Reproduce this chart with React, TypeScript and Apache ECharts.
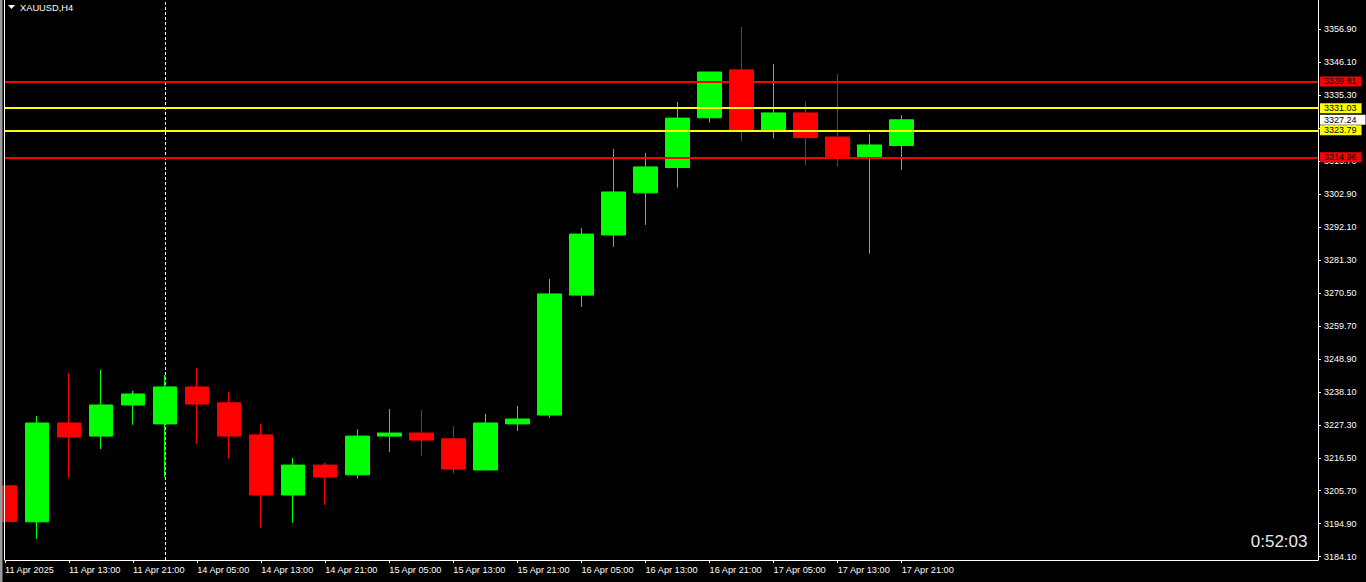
import React, { useEffect, useRef } from "react";
import * as echarts from "echarts";

// ---- data ----
const categories = [
  "11 Apr 2025", "11 Apr 09:00", "11 Apr 13:00", "11 Apr 17:00", "11 Apr 21:00",
  "14 Apr 01:00", "14 Apr 05:00", "14 Apr 09:00", "14 Apr 13:00", "14 Apr 17:00", "14 Apr 21:00",
  "15 Apr 01:00", "15 Apr 05:00", "15 Apr 09:00", "15 Apr 13:00", "15 Apr 17:00", "15 Apr 21:00",
  "16 Apr 01:00", "16 Apr 05:00", "16 Apr 09:00", "16 Apr 13:00", "16 Apr 17:00", "16 Apr 21:00",
  "17 Apr 01:00", "17 Apr 05:00", "17 Apr 09:00", "17 Apr 13:00", "17 Apr 17:00", "17 Apr 21:00",
];
const emptySlotCount = 13; // chart shift area to the right of the last bar

const openPrices = [
  3207.3, 3195.5, 3227.9, 3223.6, 3233.8, 3227.6, 3239.7, 3234.5, 3224.0, 3204.3,
  3214.1, 3210.9, 3223.6, 3224.6, 3222.7, 3212.5, 3227.6, 3230.5, 3269.8, 3289.5,
  3303.3, 3311.6, 3327.9, 3343.6, 3323.7, 3329.5, 3321.6, 3315.2, 3318.8,
];
const closePrices = [
  3195.6, 3227.9, 3223.3, 3233.8, 3237.4, 3239.7, 3234.1, 3223.6, 3204.3, 3214.1,
  3210.2, 3223.6, 3224.6, 3222.3, 3212.8, 3227.9, 3229.2, 3270.2, 3289.8, 3303.6,
  3311.8, 3327.8, 3342.9, 3323.7, 3329.5, 3321.4, 3315.2, 3319.0, 3327.24,
];
const lowPrices = [
  3187.4, 3189.9, 3210.0, 3219.4, 3227.3, 3210.0, 3221.1, 3216.2, 3193.6, 3195.2,
  3201.1, 3209.7, 3218.4, 3217.1, 3211.3, 3212.4, 3225.3, 3229.6, 3265.9, 3285.6,
  3292.8, 3305.0, 3326.3, 3320.4, 3321.1, 3312.5, 3311.9, 3283.4, 3310.9,
];
const highPrices = [
  3219.9, 3230.2, 3244.3, 3245.3, 3238.4, 3243.6, 3245.9, 3238.1, 3227.6, 3216.4,
  3214.8, 3225.9, 3232.5, 3232.2, 3226.9, 3230.9, 3233.5, 3275.1, 3291.8, 3317.7,
  3316.4, 3333.1, 3343.0, 3357.7, 3345.5, 3333.1, 3342.3, 3322.6, 3328.8,
];

const yTickValues = [
  3184.1, 3194.9, 3205.7, 3216.5, 3227.3, 3238.1, 3248.9, 3259.7, 3270.5,
  3281.3, 3292.1, 3302.9, 3313.7, 3324.5, 3335.3, 3346.1, 3356.9,
];
const redLevels = [3339.81, 3314.96];
const yellowLevels = [3331.03, 3323.79];
const bidPrice = 3327.24;
const separatorCategory = "14 Apr 01:00";
const yMin = 3183.0;
const yMax = 3366.5;
const lastLabelIndex = 28;

const symbolTitle = "XAUUSD,H4";
const timerText = "0:52:03";

const FONT = "'Liberation Sans', Arial, sans-serif";

export default function App() {
  const ref = useRef<HTMLDivElement>(null);

  useEffect(() => {
    document.body.style.margin = "0";
    document.body.style.background = "#000";
    if (!ref.current) return;
    const chart = echarts.init(ref.current, undefined, { renderer: "svg" });

    const allCats = categories.concat(new Array(emptySlotCount).fill(""));
    const candleData = openPrices.map((o, i) => [o, closePrices[i], lowPrices[i], highPrices[i]]);

    const levelLabel = (bg: string, padRight = 5) => ({
      show: true,
      position: "end",
      distance: 2,
      color: "#000",
      fontSize: 9,
      fontFamily: FONT,
      lineHeight: 9,
      backgroundColor: bg,
      padding: [1, padRight, 0, 4],
      formatter: (p: any) => Number(p.value).toFixed(2),
    });

    const levelData: any[] = [
      ...redLevels.map((v) => ({
        yAxis: v,
        lineStyle: { color: "#ff0000", width: 2, type: "solid" },
        label: levelLabel("#ff0000"),
      })),
      {
        yAxis: bidPrice,
        lineStyle: { color: "rgba(0,0,0,0)", width: 1, type: "solid" },
        label: levelLabel("#ffffff", 9),
      },
      ...yellowLevels.map((v) => ({
        yAxis: v,
        lineStyle: { color: "#ffff00", width: 2, type: "solid" },
        label: levelLabel("#ffff00"),
      })),
    ];

    const showIdx = (i: number) => i <= lastLabelIndex && i % 2 === 0;

    chart.setOption({
      animation: false,
      backgroundColor: "#000",
      grid: { left: 5, right: 48, top: 0, bottom: 22, containLabel: false },
      xAxis: {
        type: "category",
        data: allCats,
        boundaryGap: false,
        axisLine: { show: true, lineStyle: { color: "#ffffff", width: 1 } },
        axisTick: {
          show: true,
          length: 3,
          interval: (i: number) => showIdx(i),
          lineStyle: { color: "#ffffff" },
        },
        axisLabel: {
          show: true,
          interval: (i: number) => showIdx(i),
          align: "left",
          margin: 5,
          color: "#ffffff",
          fontSize: 9.2,
          fontFamily: FONT,
        },
        splitLine: { show: false },
      },
      yAxis: {
        type: "value",
        position: "right",
        min: yMin,
        max: yMax,
        scale: true,
        axisLine: { show: true, lineStyle: { color: "#ffffff", width: 1 } },
        axisTick: {
          show: true,
          length: 3,
          customValues: yTickValues,
          lineStyle: { color: "#ffffff" },
        },
        axisLabel: {
          show: true,
          customValues: yTickValues,
          margin: 6,
          color: "#ffffff",
          fontSize: 9,
          fontFamily: FONT,
          formatter: (v: number) => v.toFixed(2),
        },
        splitLine: { show: false },
      },
      series: [
        {
          // period separator, drawn behind the candles
          type: "line",
          data: [],
          z: 1,
          silent: true,
          markLine: {
            silent: true,
            symbol: ["none", "none"],
            animation: false,
            z: 1,
            label: { show: false },
            lineStyle: { color: "#ffffff", width: 1, type: [3, 2] },
            data: [{ xAxis: separatorCategory }],
          },
        },
        {
          type: "candlestick",
          data: candleData,
          barWidth: 24,
          clip: true,
          z: 3,
          itemStyle: {
            color: "#00ff00",
            color0: "#ff0000",
            borderColor: "#00ff00",
            borderColor0: "#ff0000",
            borderWidth: 1,
          },
          markLine: {
            silent: true,
            symbol: ["none", "none"],
            animation: false,
            precision: 2,
            z: 5,
            data: levelData,
          },
        },
      ],
      graphic: [
        { type: "rect", shape: { x: 0, y: 0, width: 2.5, height: 582 }, style: { fill: "#9a9a9a" }, z: 100 },
        { type: "line", shape: { x1: 4.5, y1: 0, x2: 4.5, y2: 560 }, style: { stroke: "#ffffff", lineWidth: 1 }, z: 100 },
        {
          type: "polygon",
          shape: { points: [[8, 5], [15, 5], [11.5, 9]] },
          style: { fill: "#ffffff" },
          z: 100,
        },
        {
          type: "text",
          x: 20,
          y: 7.5,
          style: {
            text: symbolTitle,
            fill: "#ffffff",
            font: `9.3px ${FONT}`,
            verticalAlign: "middle",
          },
          z: 100,
        },
        {
          type: "text",
          x: 1307.5,
          y: 541.5,
          style: {
            text: timerText,
            fill: "#e8e8e8",
            font: `17px ${FONT}`,
            align: "right",
            verticalAlign: "middle",
          },
          z: 100,
        },
      ],
    });

    return () => chart.dispose();
  }, []);

  return (
    <div
      ref={ref}
      style={{ position: "absolute", left: 0, top: 0, width: 1366, height: 582, background: "#000" }}
    />
  );
}
